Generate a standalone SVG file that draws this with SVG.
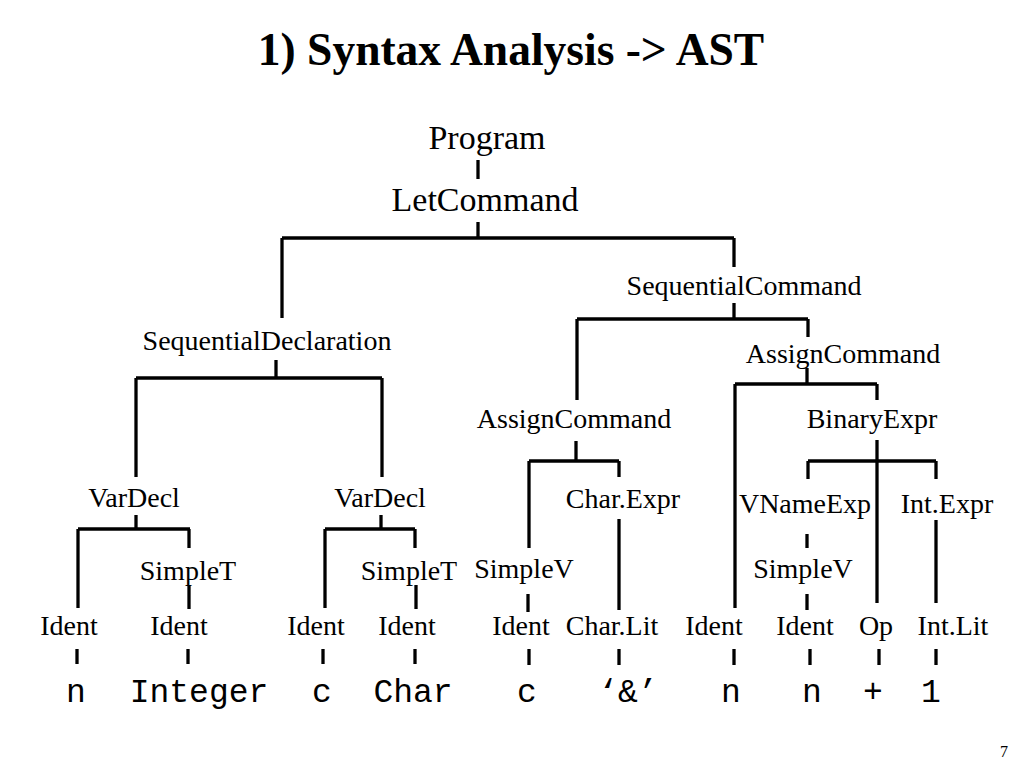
<svg xmlns="http://www.w3.org/2000/svg" width="1024" height="768" viewBox="0 0 1024 768">
<style>
.t{font-family:"Liberation Serif","Times New Roman",serif;font-size:28px;fill:#000;text-anchor:middle}
.big{font-size:34px}
.title{font-family:"Liberation Serif","Times New Roman",serif;font-size:45.5px;font-weight:bold;fill:#000;text-anchor:middle}
.m{font-family:"Liberation Mono","Courier New",monospace;font-size:33px;fill:#000;text-anchor:middle}
.pg{font-family:"Liberation Serif","Times New Roman",serif;font-size:16px;fill:#000;text-anchor:middle}
#edges line{stroke:#000;stroke-width:3.3;fill:none}
</style>
<rect width="1024" height="768" fill="#fff"/>
<text class="title" x="511" y="65">1) Syntax Analysis -&gt; AST</text>
<g id="edges">
<line x1="478" y1="160" x2="478" y2="179"/>
<line x1="478" y1="222" x2="478" y2="238"/>
<line x1="282" y1="238" x2="734" y2="238"/>
<line x1="282" y1="238" x2="282" y2="318"/>
<line x1="734" y1="238" x2="734" y2="267"/>
<line x1="734" y1="303" x2="734" y2="319"/>
<line x1="577" y1="319" x2="808" y2="319"/>
<line x1="577" y1="319" x2="577" y2="400"/>
<line x1="808" y1="319" x2="808" y2="337"/>
<line x1="807" y1="368" x2="807" y2="384"/>
<line x1="735" y1="384" x2="877" y2="384"/>
<line x1="735" y1="384" x2="735" y2="608"/>
<line x1="877" y1="384" x2="877" y2="400"/>
<line x1="276" y1="360" x2="276" y2="378"/>
<line x1="136" y1="378" x2="382" y2="378"/>
<line x1="136" y1="378" x2="136" y2="477"/>
<line x1="382" y1="378" x2="382" y2="477"/>
<line x1="136" y1="515" x2="136" y2="529"/>
<line x1="78" y1="529" x2="190" y2="529"/>
<line x1="78" y1="529" x2="78" y2="608"/>
<line x1="189" y1="529" x2="189" y2="548"/>
<line x1="189" y1="585" x2="189" y2="609"/>
<line x1="77" y1="649" x2="77" y2="664"/>
<line x1="188" y1="649" x2="188" y2="664"/>
<line x1="381" y1="515" x2="381" y2="529"/>
<line x1="325" y1="529" x2="415" y2="529"/>
<line x1="325" y1="529" x2="325" y2="608"/>
<line x1="415" y1="529" x2="415" y2="548"/>
<line x1="416" y1="585" x2="416" y2="609"/>
<line x1="323" y1="649" x2="323" y2="664"/>
<line x1="415" y1="649" x2="415" y2="664"/>
<line x1="576" y1="441" x2="576" y2="461"/>
<line x1="529" y1="461" x2="619" y2="461"/>
<line x1="529" y1="461" x2="529" y2="548"/>
<line x1="619" y1="461" x2="619" y2="477"/>
<line x1="619" y1="519" x2="619" y2="610"/>
<line x1="528" y1="594" x2="528" y2="612"/>
<line x1="529" y1="649" x2="529" y2="665"/>
<line x1="619" y1="649" x2="619" y2="665"/>
<line x1="734" y1="649" x2="734" y2="665"/>
<line x1="877" y1="440" x2="877" y2="603"/>
<line x1="808" y1="461" x2="936" y2="461"/>
<line x1="808" y1="461" x2="808" y2="479"/>
<line x1="936" y1="461" x2="936" y2="479"/>
<line x1="807" y1="534" x2="807" y2="548"/>
<line x1="936" y1="520" x2="936" y2="603"/>
<line x1="807" y1="594" x2="807" y2="610"/>
<line x1="810" y1="649" x2="810" y2="665"/>
<line x1="879" y1="649" x2="879" y2="665"/>
<line x1="936" y1="649" x2="936" y2="665"/>
</g>
<g id="n-program"><text class="t big" x="487" y="149">Program</text></g>
<g id="n-letcommand"><text class="t big" x="485" y="211">LetCommand</text></g>
<g id="n-seqcmd"><text class="t" x="744" y="295">SequentialCommand</text></g>
<g id="n-seqdecl"><text class="t" x="267" y="350">SequentialDeclaration</text></g>
<g id="n-assign2"><text class="t" x="843" y="363">AssignCommand</text></g>
<g id="n-assign1"><text class="t" x="574" y="428">AssignCommand</text></g>
<g id="n-binexpr"><text class="t" x="872" y="428">BinaryExpr</text></g>
<g id="n-vardecl1"><text class="t" x="134" y="507">VarDecl</text></g>
<g id="n-vardecl2"><text class="t" x="380" y="507">VarDecl</text></g>
<g id="n-charexpr"><text class="t" x="623" y="508">Char.Expr</text></g>
<g id="n-vnameexp"><text class="t" x="805" y="513">VNameExp</text></g>
<g id="n-intexpr"><text class="t" x="947" y="513">Int.Expr</text></g>
<g id="n-simplet1"><text class="t" x="188" y="580">SimpleT</text></g>
<g id="n-simplet2"><text class="t" x="409" y="580">SimpleT</text></g>
<g id="n-simplev1"><text class="t" x="524" y="578">SimpleV</text></g>
<g id="n-simplev2"><text class="t" x="803" y="578">SimpleV</text></g>
<g id="n-ident1"><text class="t" x="69" y="635">Ident</text></g>
<g id="n-ident2"><text class="t" x="179" y="635">Ident</text></g>
<g id="n-ident3"><text class="t" x="316" y="635">Ident</text></g>
<g id="n-ident4"><text class="t" x="407" y="635">Ident</text></g>
<g id="n-ident5"><text class="t" x="521" y="635">Ident</text></g>
<g id="n-charlit"><text class="t" x="612" y="635">Char.Lit</text></g>
<g id="n-ident6"><text class="t" x="714" y="635">Ident</text></g>
<g id="n-ident7"><text class="t" x="805" y="635">Ident</text></g>
<g id="n-op"><text class="t" x="876" y="635">Op</text></g>
<g id="n-intlit"><text class="t" x="953" y="635">Int.Lit</text></g>
<g id="n-tok-n1"><text class="m" x="76" y="702">n</text></g>
<g id="n-tok-integer"><text class="m" x="199" y="702">Integer</text></g>
<g id="n-tok-c1"><text class="m" x="322" y="702">c</text></g>
<g id="n-tok-char"><text class="m" x="413" y="702">Char</text></g>
<g id="n-tok-c2"><text class="m" x="527" y="702">c</text></g>
<g id="n-tok-amp"><text class="m" x="628" y="702">‘&amp;’</text></g>
<g id="n-tok-n2"><text class="m" x="731" y="702">n</text></g>
<g id="n-tok-n3"><text class="m" x="812" y="702">n</text></g>
<g id="n-tok-plus"><text class="m" x="873" y="702">+</text></g>
<g id="n-tok-1"><text class="m" x="931" y="702">1</text></g>
<text class="pg" x="1004" y="757">7</text>
</svg>
